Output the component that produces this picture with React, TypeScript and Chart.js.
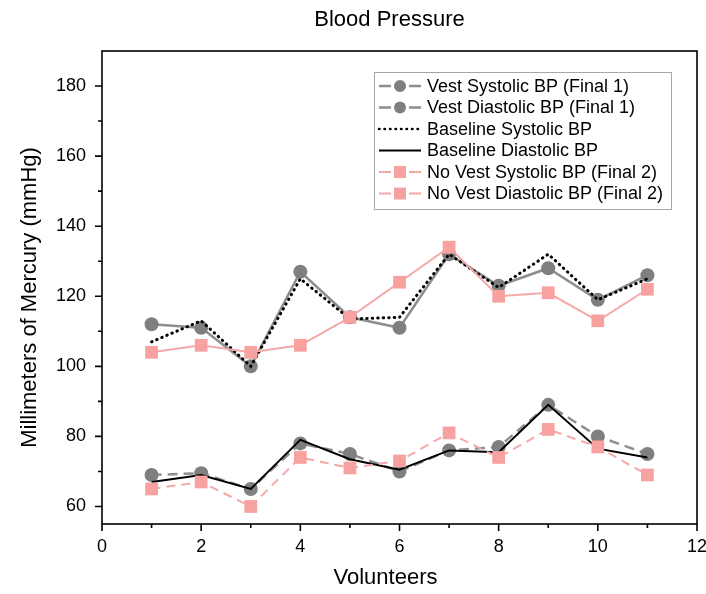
import React, { useEffect, useRef } from "react";
import { Chart, registerables } from "chart.js";

Chart.register(...registerables);

const volunteers = [1, 2, 3, 4, 5, 6, 7, 8, 9, 10, 11];
const vestSystolic = [112, 111, 100, 127, 114, 111, 132, 123, 128, 119, 126];
const vestDiastolic = [69, 69.5, 65, 78, 75, 70, 76, 77, 89, 80, 75];
const baselineSystolic = [107, 113, 100, 125, 113.5, 114, 132, 122.5, 132, 119, 125];
const baselineDiastolic = [67, 69, 65, 79, 73.5, 70.5, 76, 75.5, 89, 76.5, 74];
const noVestSystolic = [104, 106, 104, 106, 114, 124, 134, 120, 121, 113, 122];
const noVestDiastolic = [65, 67, 60, 74, 71, 73, 81, 74, 82, 77, 69];

const seriesNames = [
  "Vest Systolic BP (Final 1)",
  "Vest Diastolic BP (Final 1)",
  "Baseline Systolic BP",
  "Baseline Diastolic BP",
  "No Vest Systolic BP (Final 2)",
  "No Vest Diastolic BP (Final 2)",
];
const chartTitle = "Blood Pressure";
const xTitle = "Volunteers";
const yTitle = "Millimeters of Mercury (mmHg)";
const xMajorTicks = [0, 2, 4, 6, 8, 10, 12];
const xMinorTicks = [1, 3, 5, 7, 9, 11];
const yMajorTicks = [60, 80, 100, 120, 140, 160, 180];
const yMinorTicks = [70, 90, 110, 130, 150, 170];

const FONT = "'Liberation Sans', Arial, sans-serif";
const GREY_M = "#7f7f7f";
const GREY_L = "#8e8e8e";
const PINK_M = "#f8a1a1";
const PINK_L = "#f5a8a8";

const toPts = (arr: number[]) => volunteers.map((v, i) => ({ x: v, y: arr[i] }));

const framePlugin = {
  id: "frameTicks",
  afterDraw(chart: any) {
    const { ctx, chartArea } = chart;
    const { left, right, top, bottom } = chartArea;
    const xs = chart.scales.x;
    const ys = chart.scales.y;
    ctx.save();
    ctx.strokeStyle = "#000";
    ctx.lineWidth = 1.6;
    ctx.strokeRect(left, top, right - left, bottom - top);
    ctx.beginPath();
    yMajorTicks.forEach((v) => {
      const p = ys.getPixelForValue(v);
      ctx.moveTo(left, p);
      ctx.lineTo(left - 7, p);
    });
    yMinorTicks.forEach((v) => {
      const p = ys.getPixelForValue(v);
      ctx.moveTo(left, p);
      ctx.lineTo(left - 4, p);
    });
    xMajorTicks.forEach((v) => {
      const p = xs.getPixelForValue(v);
      ctx.moveTo(p, bottom);
      ctx.lineTo(p, bottom + 7);
    });
    xMinorTicks.forEach((v) => {
      const p = xs.getPixelForValue(v);
      ctx.moveTo(p, bottom);
      ctx.lineTo(p, bottom + 4);
    });
    ctx.stroke();

    ctx.fillStyle = "#000";
    ctx.textAlign = "center";
    ctx.textBaseline = "middle";
    // chart title
    ctx.font = `22px ${FONT}`;
    ctx.fillText(chartTitle, (left + right) / 2 - 10, 20);
    // x axis title
    ctx.fillText(xTitle, (left + right) / 2 - 14, 578);
    // y axis title
    ctx.save();
    ctx.translate(30, (top + bottom) / 2 + 10);
    ctx.rotate(-Math.PI / 2);
    ctx.fillText(yTitle, 0, 0);
    ctx.restore();
    ctx.restore();
  },
};

const legendPlugin = {
  id: "insideLegend",
  afterDraw(chart: any) {
    const { ctx, chartArea } = chart;
    const boxL = chartArea.right - 323;
    const boxT = chartArea.top + 21;
    const boxW = 297;
    const boxH = 137;
    ctx.save();
    ctx.fillStyle = "#fff";
    ctx.fillRect(boxL, boxT, boxW, boxH);
    ctx.strokeStyle = "#a6a6a6";
    ctx.lineWidth = 1;
    ctx.strokeRect(boxL + 0.5, boxT + 0.5, boxW, boxH);
    chart.data.datasets.forEach((ds: any, i: number) => {
      const cy = boxT + 14 + i * 21.5;
      const x0 = boxL + 5;
      const x1 = boxL + 47;
      const mx = (x0 + x1) / 2;
      ctx.save();
      ctx.strokeStyle = ds.borderColor;
      ctx.lineWidth = Math.min(ds.borderWidth, 2.5);
      ctx.lineCap = ds.borderCapStyle || "butt";
      if (ds.pointRadius > 0) {
        ctx.beginPath();
        ctx.moveTo(x0, cy);
        ctx.lineTo(mx - 9, cy);
        ctx.moveTo(mx + 9, cy);
        ctx.lineTo(x1, cy);
        ctx.stroke();
        ctx.fillStyle = ds.pointBackgroundColor;
        if (ds.pointStyle === "rect") {
          ctx.fillRect(mx - 6, cy - 6, 12, 12);
        } else {
          ctx.beginPath();
          ctx.arc(mx, cy, 6, 0, Math.PI * 2);
          ctx.fill();
        }
      } else {
        ctx.setLineDash(ds.borderDash && ds.borderDash.length ? ds.borderDash : []);
        ctx.beginPath();
        ctx.moveTo(x0, cy);
        ctx.lineTo(x1, cy);
        ctx.stroke();
      }
      ctx.restore();
      ctx.fillStyle = "#000";
      ctx.font = `18px ${FONT}`;
      ctx.textAlign = "left";
      ctx.textBaseline = "middle";
      ctx.fillText(ds.label, boxL + 53, cy + 1);
    });
    ctx.restore();
  },
};

export default function App() {
  const ref = useRef<HTMLCanvasElement | null>(null);
  useEffect(() => {
    if (!ref.current) return;
    const chart = new Chart(ref.current, {
      type: "line",
      data: {
        datasets: [
          {
            label: seriesNames[0],
            data: toPts(vestSystolic),
            borderColor: GREY_L,
            borderWidth: 2.5,
            pointStyle: "circle",
            pointRadius: 7,
            pointBackgroundColor: GREY_M,
            pointBorderWidth: 0,
            order: 3,
          },
          {
            label: seriesNames[1],
            data: toPts(vestDiastolic),
            borderColor: GREY_L,
            borderWidth: 2.5,
            borderDash: [10, 6],
            pointStyle: "circle",
            pointRadius: 7,
            pointBackgroundColor: GREY_M,
            pointBorderWidth: 0,
            order: 3,
          },
          {
            label: seriesNames[2],
            data: toPts(baselineSystolic),
            borderColor: "#000",
            borderWidth: 3,
            borderDash: [0.5, 5],
            borderCapStyle: "round",
            pointRadius: 0,
            order: 2,
          },
          {
            label: seriesNames[3],
            data: toPts(baselineDiastolic),
            borderColor: "#000",
            borderWidth: 2,
            pointRadius: 0,
            order: 2,
          },
          {
            label: seriesNames[4],
            data: toPts(noVestSystolic),
            borderColor: PINK_L,
            borderWidth: 2,
            pointStyle: "rect",
            pointRadius: 9,
            pointBackgroundColor: PINK_M,
            pointBorderWidth: 0,
            order: 1,
          },
          {
            label: seriesNames[5],
            data: toPts(noVestDiastolic),
            borderColor: PINK_L,
            borderWidth: 2,
            borderDash: [9, 6],
            pointStyle: "rect",
            pointRadius: 9,
            pointBackgroundColor: PINK_M,
            pointBorderWidth: 0,
            order: 1,
          },
        ] as any,
      },
      options: {
        animation: false,
        responsive: false,
        devicePixelRatio: 1,
        layout: { padding: { top: 51, right: 8, left: 0, bottom: 0 } },
        plugins: {
          legend: { display: false },
          title: { display: false },
          tooltip: { enabled: false },
        },
        scales: {
          x: {
            type: "linear",
            min: 0,
            max: 12,
            afterBuildTicks: (s: any) => {
              s.ticks = xMajorTicks.map((v) => ({ value: v }));
            },
            afterFit: (s: any) => {
              s.height = 70;
              s.paddingLeft = 0;
              s.paddingRight = 0;
            },
            grid: { display: false, drawTicks: false },
            border: { display: false },
            ticks: {
              color: "#000",
              padding: 12,
              maxRotation: 0,
              font: { family: FONT, size: 18 },
            },
            title: { display: false },
          },
          y: {
            type: "linear",
            min: 55,
            max: 190,
            afterBuildTicks: (s: any) => {
              s.ticks = yMajorTicks.map((v) => ({ value: v }));
            },
            afterFit: (s: any) => {
              s.width = 102;
              s.paddingTop = 0;
              s.paddingBottom = 0;
            },
            grid: { display: false, drawTicks: false },
            border: { display: false },
            ticks: {
              color: "#000",
              padding: 16,
              font: { family: FONT, size: 18 },
            },
            title: { display: false },
          },
        },
      },
      plugins: [framePlugin, legendPlugin],
    });
    return () => chart.destroy();
  }, []);
  return (
    <div style={{ position: "fixed", left: 0, top: 0, width: 706, height: 594, background: "#fff" }}>
      <canvas ref={ref} width={706} height={594} style={{ display: "block" }} />
    </div>
  );
}
